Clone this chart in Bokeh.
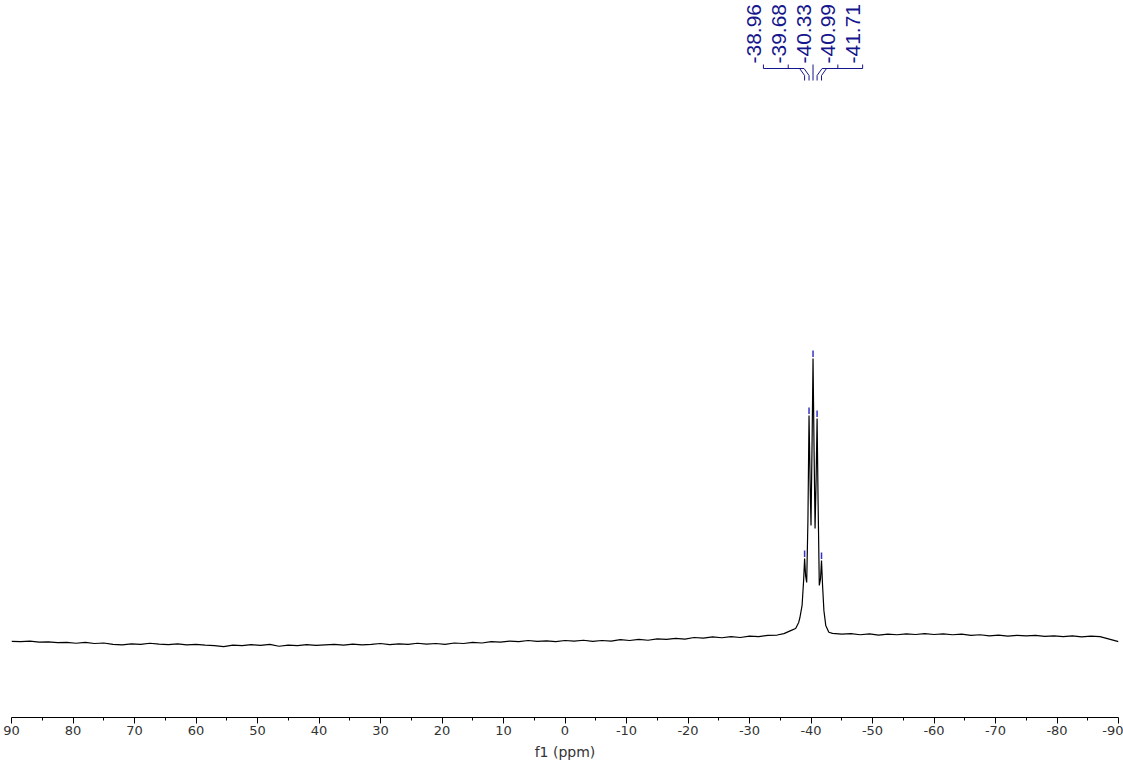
import math

from bokeh.core.properties import value
from bokeh.embed import file_html
from bokeh.models import FixedTicker, Range1d
from bokeh.plotting import figure
from bokeh.resources import INLINE

# 1D spectrum trace: chemical shift (ppm) and intensity (a.u.)
shift_ppm = [
    90.0, 88.5, 87.0, 85.5, 84.0, 82.5, 81.0, 79.5, 78.0, 76.5, 75.0, 73.5,
    72.0, 70.5, 69.0, 67.5, 66.0, 64.5, 63.0, 61.5, 60.0, 58.5, 57.0, 55.5,
    54.0, 52.5, 51.0, 49.5, 48.0, 46.5, 45.0, 43.5, 42.0, 40.5, 39.0, 37.5,
    36.0, 34.5, 33.0, 31.5, 30.0, 28.5, 27.0, 25.5, 24.0, 22.5, 21.0, 19.5,
    18.0, 16.5, 15.0, 13.5, 12.0, 10.5, 9.0, 7.5, 6.0, 4.5, 3.0, 1.5,
    0.0, -1.5, -3.0, -4.5, -6.0, -7.5, -9.0, -10.5, -12.0, -13.5, -15.0,
    -16.5, -18.0, -19.5, -21.0, -22.5, -24.0, -25.5, -27.0, -28.5, -30.0,
    -31.5, -33.0, -34.5, -35.6,
    -36.7, -37.5, -38.0, -38.2, -38.55, -38.8, -38.96, -39.12, -39.30,
    -39.50, -39.68, -39.85, -40.00, -40.18, -40.33, -40.50, -40.66, -40.83,
    -40.99, -41.15, -41.35, -41.55, -41.71, -41.88, -42.10, -42.40, -42.90,
    -43.5, -45.0, -46.5, -48.0, -49.5, -51.0, -52.5, -54.0, -55.5, -57.0,
    -58.5, -60.0, -61.5, -63.0, -64.5, -66.0, -67.5, -69.0, -70.5, -72.0,
    -73.5, -75.0, -76.5, -78.0, -79.5, -81.0, -82.5, -84.0, -85.5, -87.0,
    -88.5, -90.0,
]
intensity = [
    -3.2, -3.3, -3.1, -3.5, -3.4, -3.7, -3.6, -3.9, -3.6, -4.0, -3.8, -4.3,
    -4.5, -4.1, -4.3, -3.9, -4.2, -4.4, -4.1, -4.5, -4.3, -4.6, -4.8, -5.1,
    -4.6, -4.8, -4.4, -4.7, -4.3, -5.0, -4.6, -4.8, -4.4, -4.7, -4.5, -4.3,
    -4.6, -4.2, -4.5, -4.3, -4.0, -4.4, -4.1, -4.3, -3.9, -4.2, -4.0, -4.3,
    -3.8, -4.0, -3.6, -3.8, -3.3, -3.5, -3.1, -3.3, -2.9, -3.2, -3.0, -3.3,
    -2.9, -3.1, -2.8, -3.2, -2.9, -3.1, -2.6, -2.9, -2.5, -2.8, -2.3,
    -2.5, -2.1, -2.4, -1.8, -2.0, -1.6, -1.9, -1.5, -1.8, -1.3,
    -1.5, -1.0, -0.9, -0.4,
    0.7, 1.5, 3.7, 5.5, 9.9, 19.0, 27.0, 20.8, 18.3,
    40.9, 79.2, 55.5, 39.1, 70.1, 100.0, 66.4, 38.0, 55.5,
    78.1, 48.2, 17.2, 19.7, 26.3, 17.2, 8.0, 2.6, 0.1,
    -0.3, -0.6, -0.4, -0.8, -0.5, -0.9, -0.6, -0.8, -0.5, -0.7,
    -0.4, -0.7, -0.5, -0.8, -0.6, -1.0, -0.8, -1.2, -0.9, -1.3,
    -1.0, -1.2, -1.0, -1.4, -1.2, -1.5, -1.2, -1.6, -1.3, -1.5,
    -2.4, -3.3,
]

# picked peaks (ppm)
peak_ppm = [-38.96, -39.68, -40.33, -40.99, -41.71]
peak_labels = [f"{v:.2f}" for v in peak_ppm]

axis_ticks = list(range(-90, 91, 10))
axis_minor = list(range(-85, 90, 10))

X_START, X_END = 90, -90
Y_START, Y_END = -31.0, 230.7
FRAME_W, FRAME_H = 1107, 717

NAVY = "#16168c"
MARK = "#3434c4"

p = figure(
    frame_width=FRAME_W,
    frame_height=FRAME_H,
    x_range=Range1d(X_START, X_END),
    y_range=Range1d(Y_START, Y_END),
    output_backend="svg",
    toolbar_location=None,
    y_axis_location=None,
    min_border_left=11,
    min_border_right=5,
    min_border_top=0,
    min_border_bottom=0,
    background_fill_color="white",
    border_fill_color="white",
    outline_line_color=None,
)
p.grid.visible = False

# screen-pixel scale factors of the frame
sx = FRAME_W / abs(X_END - X_START)   # px per ppm
sy = FRAME_H / (Y_END - Y_START)      # px per intensity unit


def y_from_top(px):
    return Y_END - px / sy


# spectrum trace
p.line(shift_ppm, intensity, line_color="black", line_width=1.2)

# peak-pick markers above each maximum
peak_height = [intensity[shift_ppm.index(v)] for v in peak_ppm]
p.segment(
    x0=peak_ppm, y0=[h + 1.5 / sy for h in peak_height],
    x1=peak_ppm, y1=[h + 8 / sy for h in peak_height],
    line_color=MARK, line_width=1.5,
)

# multiplet labels fanned out above the cluster, joined by bracket lines
center = peak_ppm[len(peak_ppm) // 2]
spacing_px = 24.8
n = len(peak_ppm)
anchor_x = [center - (i - (n - 1) / 2) * spacing_px / sx for i in range(n)]

xs, ys = [], []
for a, pk in zip(anchor_x, peak_ppm):
    dx_px = (a - pk) * sx
    if abs(dx_px) < 2:
        xs.append([pk, pk])
        ys.append([y_from_top(64), y_from_top(80)])
    else:
        sign = 1 if a > pk else -1
        bend = pk + sign * 5 / sx
        xs.append([a, a, bend, pk, pk])
        ys.append([y_from_top(64), y_from_top(68), y_from_top(68),
                   y_from_top(75), y_from_top(80)])
p.multi_line(xs, ys, line_color=NAVY, line_width=1)

p.text(
    x=[a + 9.5 / sx for a in anchor_x],
    y=[y_from_top(63)] * n,
    text=peak_labels,
    angle=math.pi / 2,
    text_align="left",
    text_baseline="middle",
    text_font=value("Liberation Sans"),
    text_font_size="21px",
    text_color=NAVY,
)

# chemical-shift axis
ax = p.xaxis[0]
ax.ticker = FixedTicker(ticks=axis_ticks, minor_ticks=axis_minor)
ax.major_label_overrides = {t: str(t) for t in axis_ticks}
ax.axis_label = "f1 (ppm)"
ax.axis_label_text_font = "DejaVu Sans"
ax.axis_label_text_font_size = "14px"
ax.axis_label_text_font_style = "normal"
ax.axis_label_text_color = "#333333"
ax.axis_label_standoff = 6
ax.major_label_text_font = "DejaVu Sans"
ax.major_label_text_font_size = "13px"
ax.major_label_text_color = "#333333"
ax.major_label_standoff = 2
ax.axis_line_color = "black"
ax.axis_line_width = 1
ax.major_tick_line_color = "black"
ax.minor_tick_line_color = "black"
ax.major_tick_in = 0
ax.major_tick_out = 6
ax.minor_tick_in = 0
ax.minor_tick_out = 3

open("out.html", "w").write(file_html(p, INLINE))
